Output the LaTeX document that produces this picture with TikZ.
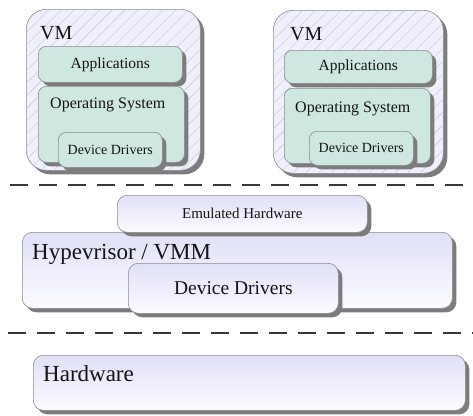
\documentclass[tikz,border=0pt]{standalone}
\usepackage{fontspec}
\setmainfont{Liberation Serif}
\usetikzlibrary{positioning, shadows, patterns.meta}
\definecolor{vmfill}{HTML}{F0F0FC}
\definecolor{hatchgray}{HTML}{C4C4D4}
\definecolor{guestteal}{HTML}{CFE7E1}
\definecolor{edgegray}{HTML}{8C8C8C}
\definecolor{shadegray}{HTML}{7C7C7C}
\definecolor{lavtop}{HTML}{E0E0F8}
\definecolor{lavbot}{HTML}{FBFBFF}
\definecolor{inkdark}{HTML}{141414}

\tikzset{
  boxshadow/.style={drop shadow={shadow xshift=4pt, shadow yshift=-4pt, fill=shadegray, opacity=1}},
  vmbox/.style={draw=edgegray, line width=0.6pt, rounded corners=20pt, fill=vmfill,
    postaction={pattern={Lines[angle=45, distance=9pt, line width=0.4pt]}, pattern color=hatchgray},
    boxshadow, anchor=north west, inner sep=0pt},
  guestbox/.style={draw=edgegray, line width=0.6pt, rounded corners=8pt, fill=guestteal,
    boxshadow, anchor=north west, inner sep=0pt},
  hostbox/.style={draw=edgegray, line width=0.6pt, rounded corners=10pt, top color=lavtop, bottom color=lavbot,
    boxshadow, anchor=north west, inner sep=0pt},
  layerline/.style={draw=inkdark!85, line width=1.3pt, dash pattern=on 18pt off 11pt},
  lbl/.style={text=inkdark, inner sep=0pt},
}

\begin{document}
\begin{tikzpicture}[x=1pt, y=-1pt]

\useasboundingbox (0,0) rectangle (473,415);

% ========== First virtual machine ==========
\node[vmbox, minimum width=174pt, minimum height=161pt] (vmA) at (26,9) {};
\node[guestbox, minimum width=144pt, minimum height=36pt] (appsA) at (38,46) {};
\node[guestbox, minimum width=146pt, minimum height=76pt] (osA) at (38,86) {};
\node[guestbox, minimum width=104pt, minimum height=35pt] (ddA) at (58,132) {};

\node[lbl, anchor=base west, font=\fontsize{20}{24}\selectfont] (vmAlbl) at (40,39) {VM};
\node[lbl, font=\fontsize{15.5}{18}\selectfont] (appsAlbl) at (appsA.center) {Applications};
\node[lbl, anchor=base west, font=\fontsize{16}{19}\selectfont] (osAlbl) at (50,108) {Operating System};
\node[lbl, font=\fontsize{14}{17}\selectfont] (ddAlbl) at (ddA.center) {Device Drivers};

% ========== Second virtual machine ==========
\node[vmbox, minimum width=170pt, minimum height=163pt] (vmB) at (273,10) {};
\node[guestbox, minimum width=148pt, minimum height=33pt] (appsB) at (284,50) {};
\node[guestbox, minimum width=146pt, minimum height=75pt] (osB) at (284,88) {};
\node[guestbox, minimum width=104pt, minimum height=34pt] (ddB) at (309,131) {};

\node[lbl, anchor=base west, font=\fontsize{20}{24}\selectfont] (vmBlbl) at (290,40) {VM};
\node[lbl, font=\fontsize{15.5}{18}\selectfont] (appsBlbl) at (appsB.center) {Applications};
\node[lbl, anchor=base west, font=\fontsize{16}{19}\selectfont] (osBlbl) at (295,112) {Operating System};
\node[lbl, font=\fontsize{14}{17}\selectfont] (ddBlbl) at (ddB.center) {Device Drivers};

% Guest / host boundary
\draw[layerline] (10,185) -- (473,185);

% ========== Hypervisor layer ==========
\node[hostbox, minimum width=430pt, minimum height=76pt] (hyp) at (22,232) {};
\node[hostbox, minimum width=250pt, minimum height=37pt] (emu) at (117,195) {};
\node[hostbox, minimum width=210pt, minimum height=50pt] (hypdd) at (128,263) {};

\node[lbl, font=\fontsize{15}{18}\selectfont] (emulbl) at (emu.center) {Emulated Hardware};
\node[lbl, anchor=base west, font=\fontsize{23}{27}\selectfont] (hyplbl) at (32,259) {Hypevrisor / VMM};
\node[lbl, font=\fontsize{19.5}{23}\selectfont] (hypddlbl) at (hypdd.center) {Device Drivers};

% Host / hardware boundary
\draw[layerline] (8,333) -- (473,333);

% ========== Physical hardware ==========
\node[hostbox, minimum width=432pt, minimum height=55pt] (hw) at (33,355) {};
\node[lbl, anchor=base west, font=\fontsize{23}{27}\selectfont] (hwlbl) at (43,381) {Hardware};

\end{tikzpicture}
\end{document}
